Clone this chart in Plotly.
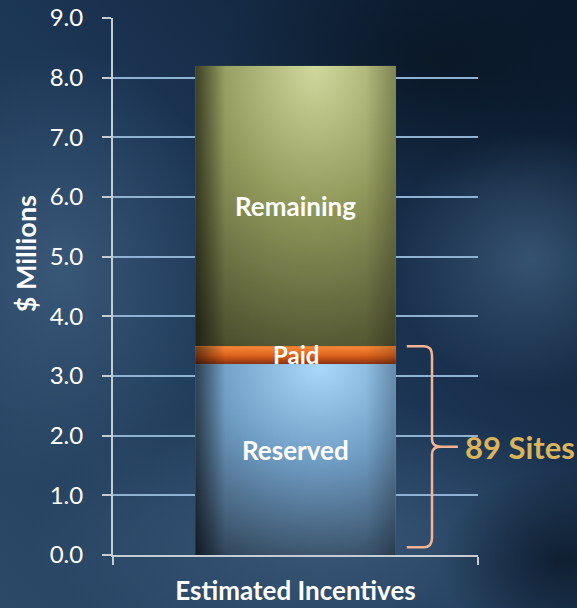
import base64
import numpy as np
import plotly.graph_objects as go

# ---- data ----
category = ["Estimated Incentives"]
segments = ["Reserved", "Paid", "Remaining"]
values = [3.2, 0.3, 4.7]            # $ millions
brace_label = "89 Sites"
y_ticks = [0, 1, 2, 3, 4, 5, 6, 7, 8, 9]

# ---- style ----
FONT = "Lato"
base_colors = {"Reserved": "#6f9cc2", "Paid": "#e06a20", "Remaining": "#838a52"}

W, H = 577, 608
L, R, T, B = 113, 99, 18, 53
BAR_W = 0.55


def svg_uri(svg):
    return "data:image/svg+xml;base64," + base64.b64encode(svg.encode()).decode()


edge = ('<linearGradient id="e" x1="0" y1="0" x2="1" y2="0">'
        '<stop offset="0" stop-color="#000" stop-opacity="0.55"/>'
        '<stop offset="0.15" stop-color="#000" stop-opacity="0"/>'
        '<stop offset="0.85" stop-color="#000" stop-opacity="0"/>'
        '<stop offset="1" stop-color="#000" stop-opacity="0.2"/></linearGradient>')

seg_svg = {
    "Remaining": (
        '<svg xmlns="http://www.w3.org/2000/svg" viewBox="0 0 100 100" preserveAspectRatio="none">'
        '<defs><radialGradient id="g" cx="0.6" cy="0" r="1.1">'
        '<stop offset="0" stop-color="#d0d89d"/><stop offset="0.45" stop-color="#929a5c"/>'
        '<stop offset="1" stop-color="#4a4d2d"/></radialGradient>' + edge + '</defs>'
        '<rect width="100" height="100" fill="url(#g)"/><rect width="100" height="100" fill="url(#e)"/></svg>'),
    "Paid": (
        '<svg xmlns="http://www.w3.org/2000/svg" viewBox="0 0 100 100" preserveAspectRatio="none">'
        '<defs><linearGradient id="g" x1="0" y1="0" x2="0" y2="1">'
        '<stop offset="0" stop-color="#f58a3a"/><stop offset="0.5" stop-color="#e0641c"/>'
        '<stop offset="1" stop-color="#8a3210"/></linearGradient>' + edge + '</defs>'
        '<rect width="100" height="100" fill="url(#g)"/><rect width="100" height="100" fill="url(#e)"/></svg>'),
    "Reserved": (
        '<svg xmlns="http://www.w3.org/2000/svg" viewBox="0 0 100 100" preserveAspectRatio="none">'
        '<defs><radialGradient id="g" cx="0.62" cy="0" r="1.15">'
        '<stop offset="0" stop-color="#a9d9fb"/><stop offset="0.45" stop-color="#6f9cc3"/>'
        '<stop offset="1" stop-color="#2c3f53"/></radialGradient>' + edge + '</defs>'
        '<rect width="100" height="100" fill="url(#g)"/><rect width="100" height="100" fill="url(#e)"/></svg>'),
}

bg_svg = (
    f'<svg xmlns="http://www.w3.org/2000/svg" viewBox="0 0 {W} {H}" preserveAspectRatio="none">'
    '<defs>'
    '<linearGradient id="b" x1="1" y1="0" x2="0" y2="1">'
    '<stop offset="0" stop-color="#0a1a2d"/><stop offset="0.5" stop-color="#1c3655"/>'
    '<stop offset="1" stop-color="#2c4968"/></linearGradient>'
    '<radialGradient id="r1"><stop offset="0" stop-color="#3e5d7d" stop-opacity="0.8"/>'
    '<stop offset="1" stop-color="#3e5d7d" stop-opacity="0"/></radialGradient>'
    '<radialGradient id="r2"><stop offset="0" stop-color="#07131f" stop-opacity="0.7"/>'
    '<stop offset="1" stop-color="#07131f" stop-opacity="0"/></radialGradient>'
    '</defs>'
    f'<rect width="{W}" height="{H}" fill="url(#b)"/>'
    '<ellipse cx="60" cy="270" rx="170" ry="220" fill="url(#r1)"/>'
    '<ellipse cx="330" cy="540" rx="300" ry="140" fill="url(#r1)"/>'
    '<ellipse cx="530" cy="260" rx="140" ry="130" fill="url(#r1)"/>'
    '<ellipse cx="440" cy="60" rx="220" ry="130" fill="url(#r2)"/>'
    '<ellipse cx="560" cy="560" rx="120" ry="90" fill="url(#r2)"/>'
    '</svg>')

fig = go.Figure()
for name, v in zip(segments, values):
    fig.add_trace(go.Bar(x=category, y=[v], name=name, width=BAR_W,
                         marker=dict(color=base_colors[name], line=dict(width=0)),
                         hoverinfo="skip"))

bottoms = np.concatenate([[0], np.cumsum(values)[:-1]])
tops = np.cumsum(values)

images = [dict(source=svg_uri(bg_svg), xref="paper", yref="paper",
               x=-L / (W - L - R), y=1 + T / (H - T - B),
               sizex=W / (W - L - R), sizey=H / (H - T - B),
               sizing="stretch", layer="below", xanchor="left", yanchor="top")]
for name, b0, t0 in zip(segments, bottoms, tops):
    images.append(dict(source=svg_uri(seg_svg[name]), xref="x", yref="y",
                       x=-BAR_W / 2, y=float(t0), sizex=BAR_W, sizey=float(t0 - b0),
                       sizing="stretch", layer="above", xanchor="left", yanchor="top"))

annotations = []
label_shift = {"Reserved": 10, "Paid": 1, "Remaining": 0}
label_size = {"Reserved": 26, "Paid": 24, "Remaining": 26}
for name, b0, t0 in zip(segments, bottoms, tops):
    annotations.append(dict(x=category[0], y=float((b0 + t0) / 2), text=name, showarrow=False,
                            yshift=label_shift[name],
                            font=dict(family=FONT, size=label_size[name],
                                      color="white", weight="bold")))

annotations.append(dict(x=-0.241, y=0.56, xref="paper", yref="paper", text="$ Millions",
                        textangle=-90, showarrow=False, xanchor="center", yanchor="middle",
                        font=dict(family=FONT, size=27, color="white", weight="bold")))

# brace spanning reserved + paid
yt = float(tops[1])
yb = 0.13
ym = (yt + yb) / 2
xl, xv, xt = 0.805, 0.874, 0.945
path = (f"M {xl},{yt} L {xv-0.022},{yt} Q {xv},{yt} {xv},{yt-0.16} "
        f"L {xv},{ym+0.12} Q {xv},{ym} {xv+0.025},{ym} L {xt},{ym} "
        f"M {xv+0.025},{ym} Q {xv},{ym} {xv},{ym-0.12} "
        f"L {xv},{yb+0.16} Q {xv},{yb} {xv-0.022},{yb} L {xl},{yb}")
shapes = [dict(type="path", xref="paper", yref="y", path=path,
               line=dict(color="#f5b391", width=2.5), layer="above")]

annotations.append(dict(x=0.96, y=ym, xref="paper", yref="y", text=brace_label, showarrow=False,
                        xanchor="left",
                        font=dict(family=FONT, size=31, color="#dcb45c", weight="bold")))

fig.update_layout(
    width=W, height=H, autosize=False,
    margin=dict(l=L, r=R, t=T, b=B, pad=0, autoexpand=False),
    barmode="stack", bargap=0.45, showlegend=False,
    paper_bgcolor="#1c3655", plot_bgcolor="rgba(0,0,0,0)",
    images=images, annotations=annotations, shapes=shapes,
    font=dict(family=FONT, color="white"),
)
fig.update_yaxes(range=[0, 9], tickvals=y_ticks, tickformat=".1f", automargin=False,
                 showgrid=True, gridcolor="#8fb2d3", gridwidth=2,
                 zeroline=False, showline=True, linecolor="#c5ccd3", linewidth=2,
                 ticks="outside", ticklen=9, tickcolor="#c5ccd3", tickwidth=2,
                 ticklabelstandoff=14,
                 tickfont=dict(family=FONT, size=24, color="white"))
fig.update_xaxes(showline=True, linecolor="#c5ccd3", linewidth=2, automargin=False,
                 ticks="outside", tickson="boundaries", ticklen=8, tickcolor="#c5ccd3", tickwidth=2,
                 ticklabelstandoff=12,
                 tickfont=dict(family=FONT, size=26, color="white", weight="bold"))

fig.write_html("out.html", config={"displayModeBar": False},
               post_script="document.body.style.margin='0';document.body.style.background='#1c3655';")
